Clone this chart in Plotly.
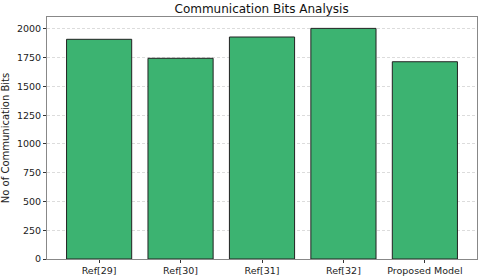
import plotly.graph_objects as go

categories = ["Ref[29]", "Ref[30]", "Ref[31]", "Ref[32]", "Proposed Model"]
values = [1910, 1745, 1930, 2005, 1715]
y_ticks = [0, 250, 500, 750, 1000, 1250, 1500, 1750, 2000]

fig = go.Figure()
fig.add_trace(go.Bar(
    x=list(range(len(categories))), y=values, width=0.8,
    marker=dict(color="#3CB371", line=dict(color="#222222", width=1)),
))

font = "DejaVu Sans, Arial, sans-serif"
fig.update_layout(
    width=480, height=278,
    margin=dict(l=47, r=3, t=17, b=19, autoexpand=False),
    paper_bgcolor="white", plot_bgcolor="white",
    showlegend=False,
    font=dict(family=font, size=10, color="#222222"),
    title=dict(text="Communication Bits Analysis", x=0.545, xanchor="center",
               y=0.97, yanchor="middle", font=dict(size=12, family=font, color="#111111")),
    bargap=0.2,
)
fig.update_xaxes(
    range=[-0.64, 4.64], tickmode="array", tickvals=list(range(len(categories))),
    ticktext=categories, ticks="outside", ticklen=3, tickcolor="#333333",
    showline=True, linecolor="#888888", linewidth=1, mirror=True, showgrid=False,
    tickfont=dict(size=9.5), automargin=False,
)
fig.update_yaxes(
    range=[0, 2104], tickmode="array", tickvals=y_ticks,
    ticks="outside", ticklen=3, tickcolor="#333333",
    showline=True, linecolor="#888888", linewidth=1, mirror=True,
    showgrid=True, gridcolor="#dcdcdc", griddash="3px,2px", gridwidth=1,
    zeroline=False, automargin=False,
    title=dict(text="No of Communication Bits", font=dict(size=10), standoff=6),
    tickfont=dict(size=9.5),
)
fig.write_html("out.html", config={"displayModeBar": False},
               post_script="document.body.style.margin='0';document.body.style.overflow='hidden';")
